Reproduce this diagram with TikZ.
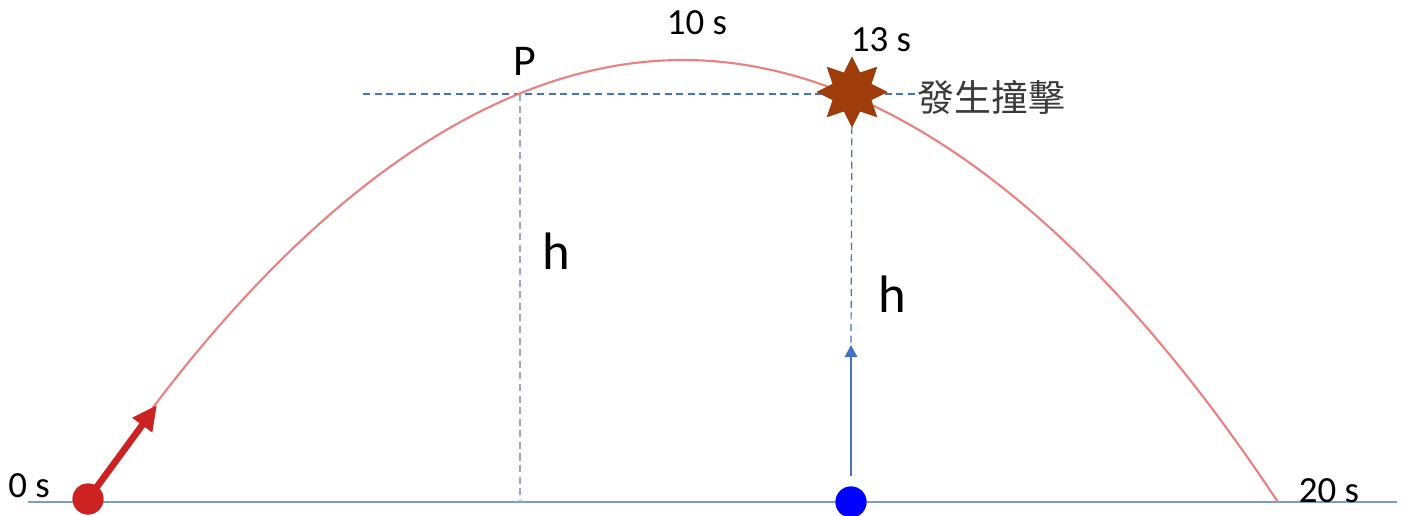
\documentclass[tikz,border=0pt]{standalone}
\usepackage{fontspec}
\setmainfont{Carlito}
\newfontfamily\cjkfont{Noto Sans CJK TC}
\usetikzlibrary{arrows.meta, shapes.geometric}
\definecolor{cInk}{HTML}{000000}
\definecolor{cGrey}{HTML}{3A3A3A}
\definecolor{cPath}{HTML}{EA8080}
\definecolor{cShot}{HTML}{CC2222}
\definecolor{cBall}{HTML}{0000FF}
\definecolor{cGuide}{HTML}{4472C4}
\definecolor{cGuideL}{HTML}{8EAADB}
\definecolor{cGround}{HTML}{7A9CCB}
\definecolor{cStar}{HTML}{9E3D0B}
\newcommand{\fsz}[1]{\fontsize{#1}{#1}\selectfont}
\tikzset{
  dot/.style={circle, inner sep=0pt, minimum size=0.62cm},
  tlab/.style={inner sep=0pt, text=cInk, font=\fsz{21}},
  ground/.style={draw=cGround, line width=0.8pt},
  guide/.style={draw=cGuide, line width=0.7pt, dash pattern=on 4pt off 2.6pt},
  guideL/.style={guide, draw=cGuideL},
  orbit/.style={draw=cPath, line width=1.2pt},
  shot/.style={-{Triangle[length=5mm, width=4.6mm]}, line width=3.8pt, draw=cShot},
  rise/.style={-{Triangle[length=2.4mm, width=2.5mm]}, line width=0.8pt, draw=cGuide},
  boom/.style={star, star points=8, star point ratio=1.7, minimum size=1.42cm,
               inner sep=0pt, fill=cStar},
}

\begin{document}
\begin{tikzpicture}[x=0.02cm, y=-0.02cm]
  \useasboundingbox (0,0) rectangle (1405,515);

  % ---- ground and guide points
  \coordinate (gl)   at (28,502);
  \coordinate (gr)   at (1397,502);
  \coordinate (top)  at (683,60);
  \coordinate (land) at (1278,502);
  \coordinate (hl)   at (363,94);
  \coordinate (pP)   at (520,94);
  \coordinate (v0)   at (157,405);
  \coordinate (tip)  at (851,345);
  \coordinate (up)   at (851,476);

  \node[dot, fill=cShot] (ball) at (88,499) {};
  \node[dot, fill=cBall] (blue) at (851,502) {};
  \node[boom] (hit) at (852,92) {};
  \node[inner sep=0pt, anchor=west, text=cGrey, font=\cjkfont\fsz{21}] (crash) at (917,97) {發生撞擊};

  \draw[ground] (gl) -- (gr);

  % ---- dashed guides
  \draw[guide] (hl) -- (hl -| crash.west);
  \draw[guideL] (pP) -- (pP |- gl);
  \draw[guide] (hit.center) -- (tip);

  % ---- path of the shell
  \draw[orbit] (ball.center) parabola bend (top) (land);
  \draw[shot] (ball.center) -- (v0);
  \draw[rise] (up) -- (tip);

  \node[dot, fill=cShot] at (ball) {};
  \node[dot, fill=cBall] at (blue) {};
  \node[boom] at (hit) {};

  % ---- labels
  \node[tlab] (t0)  at (29,486)   {0 s};
  \node[tlab] (t10) at (697,23)   {10 s};
  \node[tlab] (t13) at (881,40)   {13 s};
  \node[tlab] (t20) at (1329,491) {20 s};
  \node[tlab, font=\fsz{25}] (lP) at (525,61)  {P};
  \node[tlab, font=\fsz{30}] (h1) at (556,251) {h};
  \node[tlab, font=\fsz{30}] (h2) at (892,294) {h};
\end{tikzpicture}
\end{document}
